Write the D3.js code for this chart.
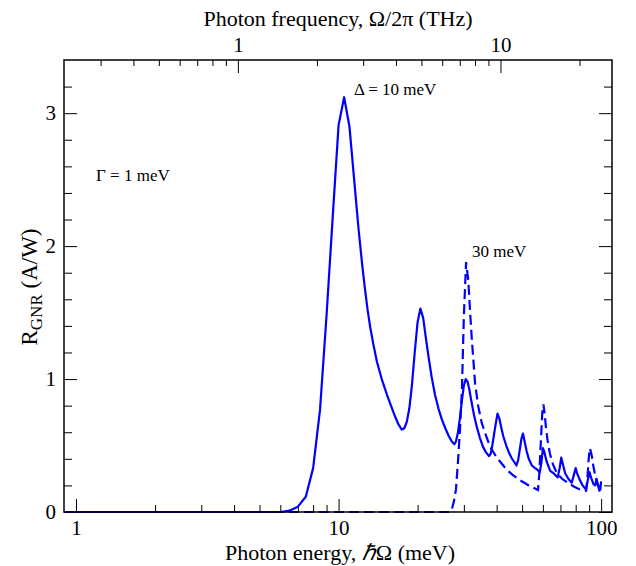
<!DOCTYPE html>
<html>
<head>
<meta charset="utf-8">
<script src="https://cdn.jsdelivr.net/npm/d3@7"></script>
<style>
  body { margin: 0; background: #fff; }
  svg text { font-family: "Liberation Serif", "Times New Roman", serif; fill: #000; }
</style>
</head>
<body>
<div id="chart"></div>
<script>
// Δ = 10 meV (solid), photon energy in meV and responsivity in A/W
const energyD10 = [0.9, 6.0, 6.5, 7.0, 7.5, 8.0, 8.5, 9.0, 9.5, 10.0, 10.5, 11.0, 11.5, 11.9, 12.3, 12.6, 12.9, 13.2, 13.6, 14.0,
  14.6, 15.3, 15.9, 16.4, 16.9, 17.4, 17.8, 18.2, 18.6, 19.0, 19.5, 20.0, 20.5, 21.0, 21.5, 22.0, 22.6, 23.3, 24.0, 24.7,
  25.5, 26.3, 27.0, 27.6, 28.0, 28.5, 29.0, 29.5, 30.0, 30.5, 31.0, 31.5, 32.0, 32.8, 33.6, 34.5, 35.5, 36.4, 37.4, 38.0,
  38.5, 39.0, 39.5, 40.3, 41.0, 41.7, 42.4, 43.5, 44.5, 45.5, 46.5, 47.6, 48.3, 49.0, 49.7, 50.4, 51.0, 52.0, 53.0, 54.5,
  56.0, 57.0, 58.4, 59.3, 60.0, 60.6, 62.0, 64.0, 66.0, 68.3, 69.5, 70.5, 71.5, 73.0, 75.0, 77.3, 78.5, 80.0, 81.0, 83.0,
  85.0, 87.5, 89.0, 90.3, 91.5, 93.5, 95.0, 96.0, 97.0, 98.5, 99.3, 100.0];
const respD10 = [0, 0, 0.01, 0.04, 0.115, 0.33, 0.77, 1.48, 2.22, 2.91, 3.12, 2.90, 2.47, 2.14, 1.86, 1.68, 1.52, 1.39, 1.25, 1.13,
  1.00, 0.88, 0.79, 0.72, 0.66, 0.62, 0.63, 0.68, 0.78, 0.94, 1.20, 1.43, 1.53, 1.46, 1.31, 1.17, 1.02, 0.88, 0.78, 0.70,
  0.63, 0.57, 0.53, 0.51, 0.53, 0.60, 0.71, 0.84, 0.95, 1.00, 0.98, 0.92, 0.84, 0.73, 0.64, 0.56, 0.49, 0.45, 0.42, 0.44,
  0.50, 0.57, 0.64, 0.74, 0.70, 0.63, 0.57, 0.50, 0.45, 0.41, 0.38, 0.35, 0.39, 0.47, 0.55, 0.59, 0.54, 0.46, 0.40, 0.35,
  0.33, 0.32, 0.30, 0.38, 0.48, 0.46, 0.38, 0.31, 0.29, 0.26, 0.33, 0.41, 0.36, 0.29, 0.25, 0.22, 0.27, 0.33, 0.29, 0.24,
  0.20, 0.17, 0.24, 0.30, 0.26, 0.21, 0.20, 0.25, 0.21, 0.16, 0.17, 0.23];

// Δ = 30 meV (dashed)
const energyD30 = [0.9, 26.5, 27.0, 27.5, 28.0, 28.5, 29.0, 29.5, 30.0, 30.6, 31.2, 31.7, 32.2, 33.1, 34.0, 35.1, 36.5, 37.8,
  40.0, 43.6, 46.0, 49.0, 53.0, 57.5, 58.2, 59.0, 59.7, 60.3, 61.0, 61.6, 62.5, 63.8, 65.5, 67.9, 71.0, 74.5, 79.0, 83.0,
  87.7, 88.5, 89.5, 90.5, 91.2, 92.2, 93.5, 95.0, 97.0, 99.0];
const respD30 = [0, 0, 0.02, 0.08, 0.17, 0.38, 0.62, 0.92, 1.47, 1.88, 1.74, 1.50, 1.29, 0.97, 0.80, 0.67, 0.57, 0.49,
  0.41, 0.32, 0.28, 0.24, 0.20, 0.165, 0.30, 0.55, 0.75, 0.81, 0.73, 0.64, 0.54, 0.44, 0.36, 0.29, 0.25, 0.22, 0.19, 0.17,
  0.16, 0.23, 0.38, 0.48, 0.46, 0.42, 0.34, 0.27, 0.21, 0.18];

const energyMajor = [1, 10, 100];
const energyMinor = [2, 3, 4, 5, 6, 7, 8, 9, 20, 30, 40, 50, 60, 70, 80, 90];
const freqMajor = [1, 10];
const freqMinor = [0.3, 0.4, 0.5, 0.6, 0.7, 0.8, 0.9, 2, 3, 4, 5, 6, 7, 8, 9, 20];
const respMajor = [0, 1, 2, 3];
const respMinor = [0.2, 0.4, 0.6, 0.8, 1.2, 1.4, 1.6, 1.8, 2.2, 2.4, 2.6, 2.8, 3.2];

const meVperTHz = 4.1357;

const width = 636, height = 566;
const plot = { left: 64, right: 612, top: 60, bottom: 512 };

const svg = d3.select("#chart").append("svg")
  .attr("width", width)
  .attr("height", height);

const x = d3.scaleLog().domain([0.9, 110]).range([plot.left, plot.right]);
const xf = d3.scaleLog().domain([0.9 / meVperTHz, 110 / meVperTHz]).range([plot.left, plot.right]);
const y = d3.scaleLinear().domain([0, 3.4]).range([plot.bottom, plot.top]);

function styleAxis(g) {
  g.select(".domain").remove();
  g.selectAll(".tick line").attr("stroke", "#000").attr("stroke-width", 1);
  g.selectAll(".tick text").style("font-size", "21px").style("font-family", "Liberation Serif, serif");
}

// bottom axis
svg.append("g").attr("transform", `translate(0,${plot.bottom})`)
  .call(d3.axisBottom(x).tickValues(energyMajor).tickSize(-13).tickPadding(8).tickFormat(d3.format("d")))
  .call(styleAxis);
svg.append("g").attr("transform", `translate(0,${plot.bottom})`)
  .call(d3.axisBottom(x).tickValues(energyMinor).tickSize(-7).tickFormat(""))
  .call(styleAxis);

// top axis (THz)
svg.append("g").attr("transform", `translate(0,${plot.top})`)
  .call(d3.axisTop(xf).tickValues(freqMajor).tickSize(-13).tickPadding(8).tickFormat(d3.format("d")))
  .call(styleAxis);
svg.append("g").attr("transform", `translate(0,${plot.top})`)
  .call(d3.axisTop(xf).tickValues(freqMinor).tickSize(-6).tickFormat(""))
  .call(styleAxis);

// left axis
svg.append("g").attr("transform", `translate(${plot.left},0)`)
  .call(d3.axisLeft(y).tickValues(respMajor).tickSize(-13).tickPadding(8).tickFormat(d3.format("d")))
  .call(styleAxis);
svg.append("g").attr("transform", `translate(${plot.left},0)`)
  .call(d3.axisLeft(y).tickValues(respMinor).tickSize(-8).tickFormat(""))
  .call(styleAxis);

// right axis (ticks only)
svg.append("g").attr("transform", `translate(${plot.right},0)`)
  .call(d3.axisRight(y).tickValues(respMajor).tickSize(-13).tickFormat(""))
  .call(styleAxis);
svg.append("g").attr("transform", `translate(${plot.right},0)`)
  .call(d3.axisRight(y).tickValues(respMinor).tickSize(-8).tickFormat(""))
  .call(styleAxis);

// curves
const line = d3.line()
  .x(d => x(d[0]))
  .y(d => y(d[1]));

const d10 = energyD10.map((e, i) => [e, respD10[i]]);
const d30 = energyD30.map((e, i) => [e, respD30[i]]);

svg.append("path")
  .datum(d30)
  .attr("d", line)
  .attr("fill", "none")
  .attr("stroke", "#0000ff")
  .attr("stroke-width", 2.2)
  .attr("stroke-dasharray", "10,5");

svg.append("path")
  .datum(d10)
  .attr("d", line)
  .attr("fill", "none")
  .attr("stroke", "#0000ff")
  .attr("stroke-width", 2.2)
  .attr("stroke-linejoin", "round");

// frame
svg.append("rect")
  .attr("x", plot.left).attr("y", plot.top)
  .attr("width", plot.right - plot.left).attr("height", plot.bottom - plot.top)
  .attr("fill", "none")
  .attr("stroke", "#000")
  .attr("stroke-width", 1.5);

// titles
svg.append("text")
  .attr("x", 338).attr("y", 26)
  .attr("text-anchor", "middle")
  .style("font-size", "22px")
  .text("Photon frequency, Ω/2π (THz)");

const xt = svg.append("text")
  .attr("x", 340).attr("y", 560)
  .attr("text-anchor", "middle")
  .style("font-size", "22px");
xt.append("tspan").text("Photon energy, ");
xt.append("tspan").style("font-style", "italic").text("ℏ");
xt.append("tspan").text("Ω (meV)");

const yt = svg.append("text")
  .attr("transform", "translate(37,287) rotate(-90)")
  .attr("text-anchor", "middle")
  .style("font-size", "23px");
yt.append("tspan").text("R");
yt.append("tspan").attr("dy", 5).style("font-size", "17px").text("GNR");
yt.append("tspan").attr("dy", -5).text(" (A/W)");

// annotations
svg.append("text").attr("x", 354).attr("y", 95).style("font-size", "17px").text("Δ = 10 meV");
svg.append("text").attr("x", 96).attr("y", 181).style("font-size", "17px").text("Γ = 1 meV");
svg.append("text").attr("x", 472).attr("y", 257).style("font-size", "17px").text("30 meV");
</script>
</body>
</html>
